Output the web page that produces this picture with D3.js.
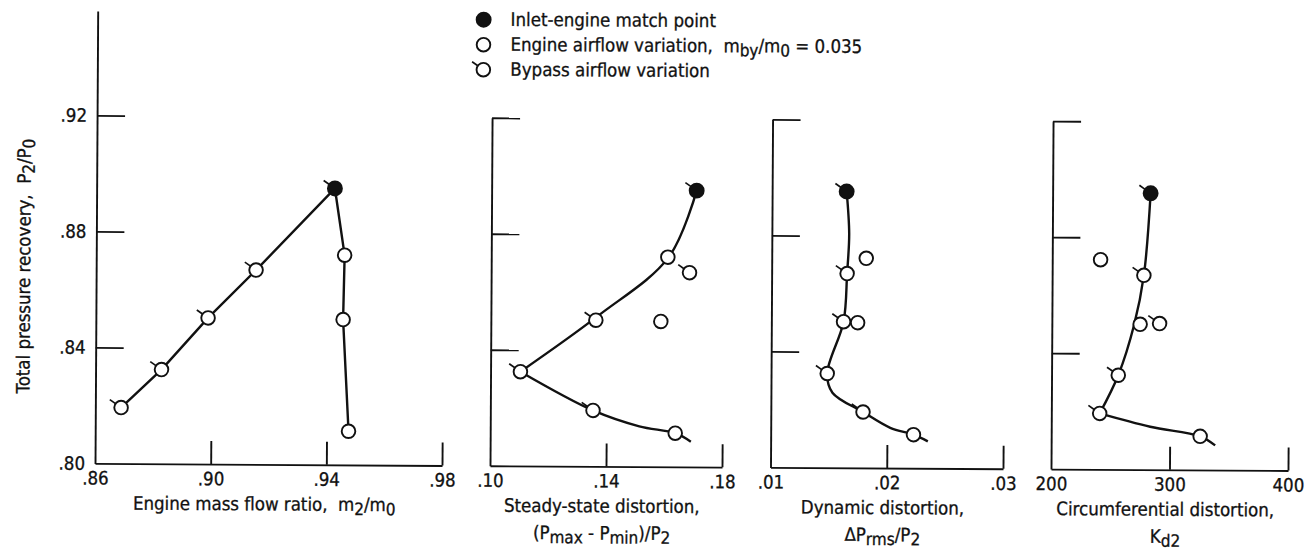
<!DOCTYPE html>
<html>
<head>
<meta charset="utf-8">
<script src="https://cdnjs.cloudflare.com/ajax/libs/d3/7.8.5/d3.min.js"></script>
<style>
body { margin: 0; background: #fff; }
svg text { font-family: "DejaVu Sans Condensed", "DejaVu Sans", sans-serif; font-stretch: condensed; fill: #111; stroke: #111; stroke-width: 0.3; white-space: pre; }
</style>
</head>
<body>
<div id="chart"></div>
<script>
// total pressure recovery P2/P0, same operating points in every panel
let recov_ticks = [0.80, 0.84, 0.88, 0.92];
let recov_match = 0.8953;
let recov_engine = [0.8723, 0.8501, 0.8116];
let recov_bypass = [0.8670, 0.8504, 0.8325, 0.8193];

// engine mass flow ratio m2/m0
let massflow_ticks = [0.86, 0.90, 0.94, 0.98];
let massflow_match = 0.9424;
let massflow_engine = [0.9459, 0.9455, 0.9476];
let massflow_bypass = [0.9153, 0.8988, 0.8828, 0.8689];

// steady-state distortion (Pmax - Pmin)/P2
let steady_ticks = [0.10, 0.14, 0.18];
let steady_match = 0.1707;
let steady_engine = [0.1609, 0.1586, 0.1638];
let steady_bypass = [0.1684, 0.1362, 0.1103, 0.1354];
let steady_fair = [
    [[0.1707, 0.8953], [0.1612, 0.8723], [0.1368, 0.8518], [0.1103, 0.8325]],
    [[0.1103, 0.8325], [0.1354, 0.8193], [0.1514, 0.8139], [0.1638, 0.8116], [0.1692, 0.8087]]
];

// dynamic distortion dPrms/P2
let dynamic_ticks = [0.01, 0.02, 0.03];
let dynamic_match = 0.01641;
let dynamic_engine = [0.01813, 0.01742, 0.02228];
let dynamic_bypass = [0.01649, 0.01621, 0.01483, 0.01793];
let dynamic_fair = [
    [[0.01641, 0.8953], [0.01665, 0.8807], [0.01649, 0.8670], [0.01621, 0.8504], [0.01483, 0.8325], [0.01529, 0.8259],
     [0.01793, 0.8193], [0.02028, 0.8139], [0.02228, 0.8116], [0.02352, 0.8093]]
];

// circumferential distortion Kd2
let circ_ticks = [200, 300, 400];
let circ_match = 282.7;
let circ_engine = [240.8, 274.5, 325.7];
let circ_bypass = [277.4, 290.9, 256.3, 240.8];
let circ_fair = [
    [[282.7, 0.8953], [277.4, 0.8670], [269.5, 0.8500], [256.3, 0.8325], [240.8, 0.8193]],
    [[240.8, 0.8193], [283.5, 0.8148], [325.7, 0.8116], [338.4, 0.8085]]
];

const width = 1306, height = 551;
const baseY = 467;
const fs = 18.5;

const svg = d3.select("#chart").append("svg")
    .attr("width", width)
    .attr("height", height);

// the scanned figure sits slightly rotated
const g = svg.append("g").attr("transform", "rotate(0.34,700,467)");

const y = d3.scaleLinear().domain([0.80, 0.92]).range([baseY, 119]);
const dotFmt = d => d3.format(".2f")(d).replace(/^0/, "");

// text with subscripts: segs = [[text, isSub], ...]
function richText(sel, segs) {
    let low = false;
    segs.forEach(([s, sub]) => {
        const t = sel.append("tspan").text(s);
        if (sub) {
            t.attr("font-size", fs - 1.5);
            if (!low) { t.attr("dy", 4); low = true; }
        } else if (low) {
            t.attr("dy", -4); low = false;
        }
    });
}

// kind: "match" (filled, tail), "filled" (no tail), "engine" (open), "bypass" (open, tail)
function drawPoint(sel, cx, cy, kind) {
    const r = 6.8;
    if (kind === "match" || kind === "bypass") {
        const a = 145 * Math.PI / 180;
        sel.append("line")
            .attr("x1", cx + Math.cos(a) * r).attr("y1", cy - Math.sin(a) * r)
            .attr("x2", cx + Math.cos(a) * (r + 7)).attr("y2", cy - Math.sin(a) * (r + 7))
            .attr("stroke", "#111").attr("stroke-width", 1.7);
    }
    const filled = kind === "match" || kind === "filled";
    sel.append("circle")
        .attr("cx", cx).attr("cy", cy).attr("r", filled ? 7 : r)
        .attr("fill", filled ? "#111" : "#fff")
        .attr("stroke", "#111").attr("stroke-width", 1.9);
}

const panels = [
    { left: 95, right: 442, ticks: massflow_ticks, fmt: dotFmt, yTop: 0.956, yLabels: true,
      match: massflow_match, engine: massflow_engine, bypass: massflow_bypass, fair: null,
      title: [[["Engine mass flow ratio,  m", 0], ["2", 1], ["/m", 0], ["0", 1]]] },
    { left: 490, right: 722, ticks: steady_ticks, fmt: dotFmt, yTop: 0.92, yLabels: false,
      match: steady_match, engine: steady_engine, bypass: steady_bypass, fair: steady_fair,
      title: [[["Steady-state distortion,", 0]],
              [["(P", 0], ["max", 1], [" - P", 0], ["min", 1], [")/P", 0], ["2", 1]]] },
    { left: 770.5, right: 1003, ticks: dynamic_ticks, fmt: dotFmt, yTop: 0.92, yLabels: false,
      match: dynamic_match, engine: dynamic_engine, bypass: dynamic_bypass, fair: dynamic_fair,
      title: [[["Dynamic distortion,", 0]],
              [["\u0394P", 0], ["rms", 1], ["/P", 0], ["2", 1]]] },
    { left: 1051, right: 1288, ticks: circ_ticks, fmt: d3.format("d"), yTop: 0.92, yLabels: false,
      match: circ_match, engine: circ_engine, bypass: circ_bypass, fair: circ_fair,
      title: [[["Circumferential distortion,", 0]],
              [["K", 0], ["d2", 1]]] }
];

panels.forEach(p => {
    const x = d3.scaleLinear().domain(d3.extent(p.ticks)).range([p.left, p.right]);
    const yp = d3.scaleLinear().domain([0.80, p.yTop]).range([baseY, y(p.yTop)]);
    const pg = g.append("g");

    // y axis, ticks pointing inward
    pg.append("g")
        .attr("transform", `translate(${p.left},0)`)
        .call(d3.axisRight(yp).tickValues(recov_ticks.slice(1)).tickSize(28).tickSizeOuter(0).tickFormat(""));
    if (p.yLabels) {
        const yl = pg.append("g")
            .attr("transform", `translate(${p.left},0)`)
            .call(d3.axisLeft(yp).tickValues(recov_ticks).tickSize(0).tickPadding(10).tickFormat(dotFmt));
        yl.select(".domain").remove();
    }

    // x axis, ticks pointing up
    pg.append("g")
        .attr("transform", `translate(0,${baseY})`)
        .call(d3.axisTop(x).tickValues(p.ticks.slice(1)).tickSize(23).tickSizeOuter(0).tickFormat(""));
    const xl = pg.append("g")
        .attr("transform", `translate(0,${baseY})`)
        .call(d3.axisBottom(x).tickValues(p.ticks).tickSize(0).tickPadding(8).tickFormat(p.fmt));
    xl.select(".domain").remove();

    pg.selectAll(".domain, .tick line").attr("stroke", "#111").attr("stroke-width", 1.9);
    pg.selectAll(".tick text").attr("font-size", fs).attr("fill", "#111")
        .style("font-family", "'DejaVu Sans Condensed', 'DejaVu Sans', sans-serif");

    // axis title
    const cx = (p.left + p.right) / 2 - 4;
    p.title.forEach((segs, i) => {
        const t = pg.append("text")
            .attr("x", cx).attr("y", baseY + 46 + i * 27)
            .attr("text-anchor", "middle").attr("font-size", fs);
        richText(t, segs);
    });

    // faired curves or straight line
    if (p.fair) {
        const line = d3.line().x(d => x(d[0])).y(d => y(d[1])).curve(d3.curveCatmullRom.alpha(0.5));
        pg.selectAll(".fair").data(p.fair).enter().append("path")
            .attr("class", "fair")
            .attr("d", line)
            .attr("fill", "none").attr("stroke", "#111").attr("stroke-width", 2.4);
    } else {
        const pts = p.bypass.map((v, i) => [v, recov_bypass[i]]).reverse()
            .concat([[p.match, recov_match]])
            .concat(p.engine.map((v, i) => [v, recov_engine[i]]));
        pg.append("path")
            .attr("d", d3.line().x(d => x(d[0])).y(d => y(d[1]))(pts))
            .attr("fill", "none").attr("stroke", "#111").attr("stroke-width", 2.4);
    }

    p.engine.forEach((v, i) => drawPoint(pg, x(v), y(recov_engine[i]), "engine"));
    p.bypass.forEach((v, i) => drawPoint(pg, x(v), y(recov_bypass[i]), "bypass"));
    drawPoint(pg, x(p.match), y(recov_match), "match");
});

// y axis title
const yt = g.append("text")
    .attr("transform", "translate(29,270) rotate(-90)")
    .attr("text-anchor", "middle").attr("font-size", fs);
richText(yt, [["Total pressure recovery,  P", 0], ["2", 1], ["/P", 0], ["0", 1]]);

// legend
const legendRows = [
    { kind: "filled", segs: [["Inlet-engine match point", 0]] },
    { kind: "engine", segs: [["Engine airflow variation,  m", 0], ["by", 1], ["/m", 0], ["0", 1], [" = 0.035", 0]] },
    { kind: "bypass", segs: [["Bypass airflow variation", 0]] }
];
const lg = g.append("g");
legendRows.forEach((row, i) => {
    const ly = 21 + i * 25;
    drawPoint(lg, 481, ly, row.kind);
    const t = lg.append("text").attr("x", 508).attr("y", ly + 6).attr("font-size", fs);
    richText(t, row.segs);
});
</script>
</body>
</html>
